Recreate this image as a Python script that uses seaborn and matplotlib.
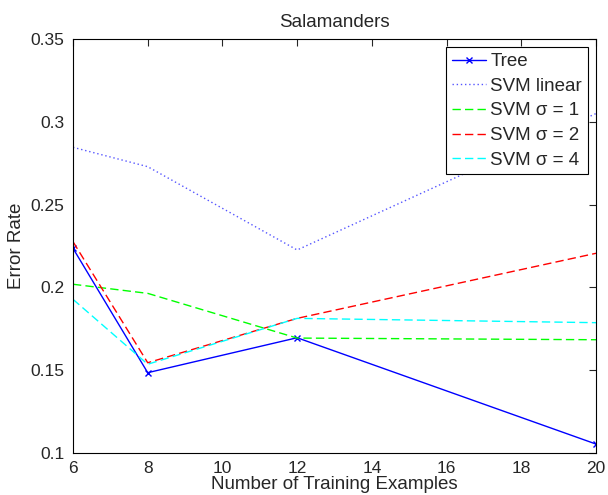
import matplotlib
matplotlib.use('Agg')
import matplotlib.pyplot as plt
import seaborn as sns
import pandas as pd

# data
examples = [6, 8, 12, 20]
tree = [0.2236, 0.1485, 0.1696, 0.1054]
svm_linear = [0.2846, 0.2729, 0.2226, 0.305]
svm_s1 = [0.2019, 0.1964, 0.1694, 0.1684]
svm_s2 = [0.2276, 0.1545, 0.1813, 0.2206]
svm_s4 = [0.1928, 0.1536, 0.1813, 0.1787]

series = {'Tree': tree, 'SVM linear': svm_linear, 'SVM σ = 1': svm_s1,
          'SVM σ = 2': svm_s2, 'SVM σ = 4': svm_s4}

rows = []
for name, vals in series.items():
    for x, y in zip(examples, vals):
        rows.append({'Examples': x, 'Error': y, 'Method': name})
df = pd.DataFrame(rows)

sns.set_style('white')
plt.rcParams['font.family'] = ['Liberation Sans', 'DejaVu Sans']

styles = {
    'Tree': dict(color='#0000ff', linestyle='-', marker='x', markersize=5),
    'SVM linear': dict(color='#5555ff', linestyle=(0, (1, 2))),
    'SVM σ = 1': dict(color='#00ff00', linestyle=(0, (6, 3))),
    'SVM σ = 2': dict(color='#ff0000', linestyle=(0, (6, 3))),
    'SVM σ = 4': dict(color='#00ffff', linestyle=(0, (6, 3))),
}

fig = plt.figure(figsize=(6.08, 4.95), dpi=100)
# axes box: x 73..596 px, y 39..453 px
ax = fig.add_axes([73 / 608, 1 - 453 / 495, 523 / 608, 414 / 495])
for name in series:
    sub = df[df['Method'] == name]
    st = styles[name]
    sns.lineplot(data=sub, x='Examples', y='Error', ax=ax, label=name,
                 color=st['color'], linewidth=1.0, marker=st.get('marker'),
                 markersize=st.get('markersize', 0), markeredgewidth=1,
                 markeredgecolor=st['color'])
    ax.lines[-1].set_linestyle(st['linestyle'])

ax.set_xlim(6, 20)
ax.set_ylim(0.1, 0.35)
ax.set_xticks(range(6, 21, 2))
ax.set_yticks([0.1, 0.15, 0.2, 0.25, 0.3, 0.35])
ax.set_yticklabels(['0.1', '0.15', '0.2', '0.25', '0.3', '0.35'])
ax.tick_params(direction='in', length=5, width=0.8, top=True, right=True,
               labelsize=12.5, pad=6)
for sp in ax.spines.values():
    sp.set_visible(True)
    sp.set_color('black')
    sp.set_linewidth(0.8)

ax.set_title('Salamanders', fontsize=13.5, pad=9)
ax.set_xlabel('Number of Training Examples', fontsize=13.5, labelpad=0)
ax.set_ylabel('Error Rate', fontsize=13.5, labelpad=4)

leg = ax.legend(loc='upper right', fontsize=13.5, frameon=True, fancybox=False,
                framealpha=1, edgecolor='black', borderaxespad=0.45,
                handlelength=1.85, labelspacing=0.4, borderpad=0.3,
                handletextpad=0.2)
leg.get_frame().set_linewidth(0.8)

fig.savefig('out.png', dpi=100)
